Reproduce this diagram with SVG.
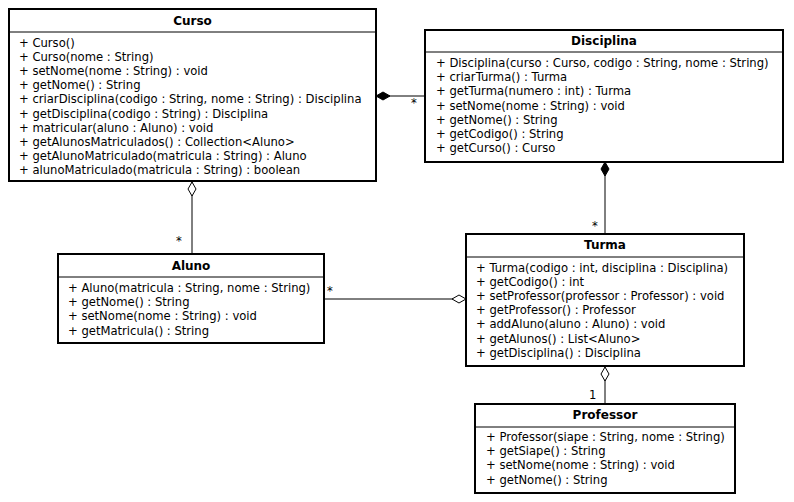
<svg xmlns="http://www.w3.org/2000/svg" width="794" height="502" viewBox="0 0 794 502">
<style>
.box{fill:#fff;stroke:#000;stroke-width:2}
.div{stroke:#000;stroke-width:1}
.t{font-family:"DejaVu Sans",sans-serif;font-size:11.6px;fill:#000}
.h{font-family:"DejaVu Sans",sans-serif;font-size:12px;font-weight:bold;fill:#000;text-anchor:middle}
.ln{stroke:#000;stroke-width:1;fill:none}
.fd{fill:#000;stroke:#000;stroke-width:1}
.od{fill:#fff;stroke:#000;stroke-width:1}
</style>
<rect width="794" height="502" fill="#fff"/>
<g id="connectors">
<line class="ln" x1="376" y1="96" x2="425" y2="96"/>
<polygon class="fd" points="376,96 383,92 390,96 383,100"/>
<text class="t" x="411" y="107">*</text>
<line class="ln" x1="605" y1="162" x2="605" y2="234"/>
<polygon class="fd" points="605,162 609,169 605,176 601,169"/>
<text class="t" x="592" y="230">*</text>
<line class="ln" x1="192" y1="181" x2="192" y2="254"/>
<polygon class="od" points="192,182 196,189 192,196 188,189"/>
<text class="t" x="176" y="245">*</text>
<line class="ln" x1="324" y1="299" x2="466" y2="299"/>
<polygon class="od" points="466,299 459,295 452,299 459,303"/>
<text class="t" x="327" y="295">*</text>
<line class="ln" x1="605" y1="366" x2="605" y2="404"/>
<polygon class="od" points="605,367 609,374 605,381 601,374"/>
<text class="t" x="589" y="399">1</text>
</g>
<g id="Curso">
<rect class="box" x="9" y="9" width="367" height="172"/>
<line class="div" x1="9" y1="32" x2="376" y2="32"/>
<text class="h" x="192.5" y="25">Curso</text>
<text class="t" x="19" y="47">+ Curso()</text>
<text class="t" x="19" y="61">+ Curso(nome : String)</text>
<text class="t" x="19" y="75">+ setNome(nome : String) : void</text>
<text class="t" x="19" y="89">+ getNome() : String</text>
<text class="t" x="19" y="103">+ criarDisciplina(codigo : String, nome : String) : Disciplina</text>
<text class="t" x="19" y="118">+ getDisciplina(codigo : String) : Disciplina</text>
<text class="t" x="19" y="132">+ matricular(aluno : Aluno) : void</text>
<text class="t" x="19" y="146">+ getAlunosMatriculados() : Collection&lt;Aluno&gt;</text>
<text class="t" x="19" y="160">+ getAlunoMatriculado(matricula : String) : Aluno</text>
<text class="t" x="19" y="174">+ alunoMatriculado(matricula : String) : boolean</text>
</g>
<g id="Disciplina">
<rect class="box" x="425" y="30" width="358" height="132"/>
<line class="div" x1="425" y1="52" x2="783" y2="52"/>
<text class="h" x="604" y="45">Disciplina</text>
<text class="t" x="436" y="67">+ Disciplina(curso : Curso, codigo : String, nome : String)</text>
<text class="t" x="436" y="81">+ criarTurma() : Turma</text>
<text class="t" x="436" y="95">+ getTurma(numero : int) : Turma</text>
<text class="t" x="436" y="110">+ setNome(nome : String) : void</text>
<text class="t" x="436" y="124">+ getNome() : String</text>
<text class="t" x="436" y="138">+ getCodigo() : String</text>
<text class="t" x="436" y="152">+ getCurso() : Curso</text>
</g>
<g id="Aluno">
<rect class="box" x="58" y="254" width="266" height="89"/>
<line class="div" x1="58" y1="277" x2="324" y2="277"/>
<text class="h" x="191" y="270">Aluno</text>
<text class="t" x="68" y="292">+ Aluno(matricula : String, nome : String)</text>
<text class="t" x="68" y="306">+ getNome() : String</text>
<text class="t" x="68" y="320">+ setNome(nome : String) : void</text>
<text class="t" x="68" y="335">+ getMatricula() : String</text>
</g>
<g id="Turma">
<rect class="box" x="466" y="234" width="278" height="132"/>
<line class="div" x1="466" y1="257" x2="744" y2="257"/>
<text class="h" x="605" y="249">Turma</text>
<text class="t" x="476" y="272">+ Turma(codigo : int, disciplina : Disciplina)</text>
<text class="t" x="476" y="286">+ getCodigo() : int</text>
<text class="t" x="476" y="300">+ setProfessor(professor : Professor) : void</text>
<text class="t" x="476" y="314">+ getProfessor() : Professor</text>
<text class="t" x="476" y="328">+ addAluno(aluno : Aluno) : void</text>
<text class="t" x="476" y="343">+ getAlunos() : List&lt;Aluno&gt;</text>
<text class="t" x="476" y="357">+ getDisciplina() : Disciplina</text>
</g>
<g id="Professor">
<rect class="box" x="475" y="404" width="260" height="89"/>
<line class="div" x1="475" y1="427" x2="735" y2="427"/>
<text class="h" x="605" y="419">Professor</text>
<text class="t" x="486" y="441">+ Professor(siape : String, nome : String)</text>
<text class="t" x="486" y="455">+ getSiape() : String</text>
<text class="t" x="486" y="469">+ setNome(nome : String) : void</text>
<text class="t" x="486" y="484">+ getNome() : String</text>
</g>
</svg>
